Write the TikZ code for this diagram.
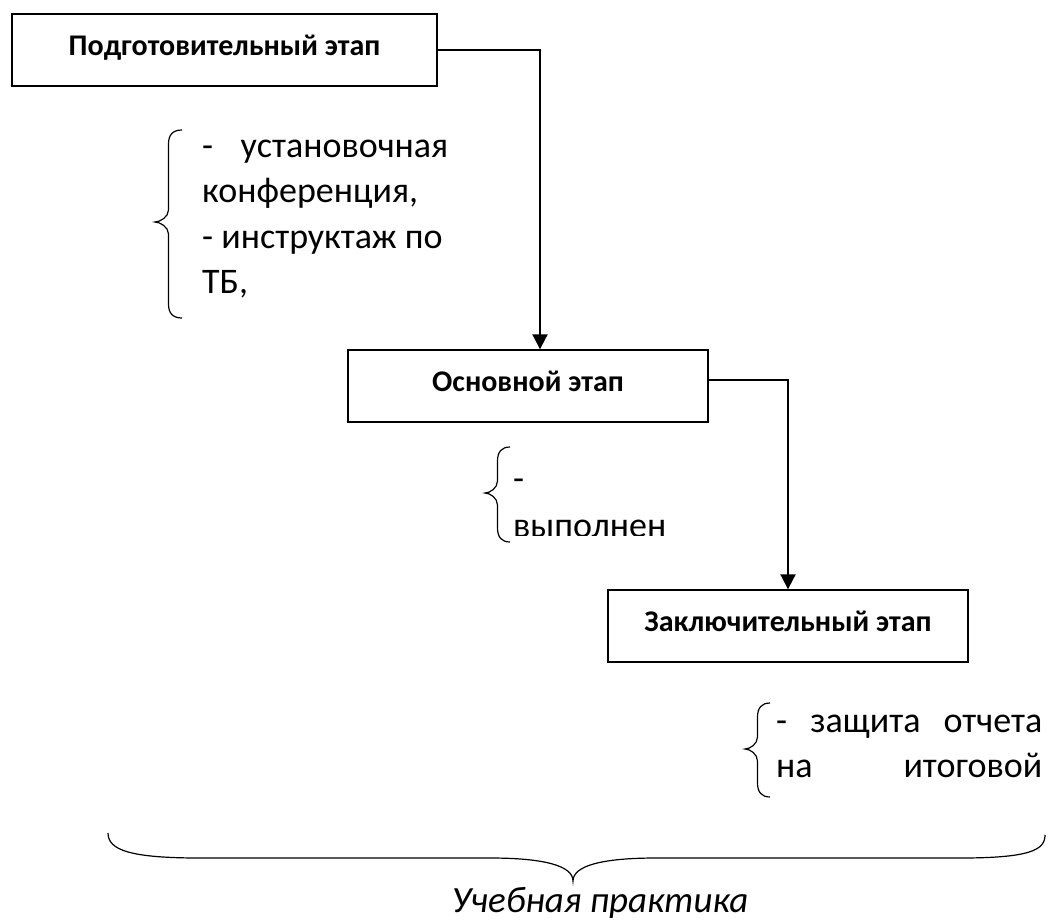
\documentclass[tikz,border=0pt]{standalone}
\usepackage{fontspec}
\setmainfont{Carlito}
\usetikzlibrary{arrows.meta}

% curly brace opening to the right: end x, tip x, top y, tip y, bottom y
\newcommand{\curlybr}[5]{%
  \draw[brace line] (#1,#3) .. controls ({(#1+#2)/2+4},#3) and ({(#1+#2)/2},#3+5) .. ({(#1+#2)/2},#3+14)
    -- ({(#1+#2)/2},#4-12) .. controls ({(#1+#2)/2},#4-5) and (#2+5,#4) .. (#2,#4)
    .. controls (#2+5,#4) and ({(#1+#2)/2},#4+5) .. ({(#1+#2)/2},#4+12)
    -- ({(#1+#2)/2},#5-14) .. controls ({(#1+#2)/2},#5-5) and ({(#1+#2)/2+4},#5) .. (#1,#5);}

\tikzset{
  stage/.style={draw, line width=1.4pt, inner sep=0pt, minimum height=72pt,
    font=\bfseries\fontsize{30}{36}\selectfont, text height=19pt, text depth=9pt},
  conn/.style={line width=2pt, -{Triangle[width=15pt,length=15pt]}},
  brace line/.style={line width=1.2pt},
  note/.style={anchor=base west, inner sep=0pt, align=justify,
    font=\fontsize{36}{45.5}\selectfont}
}

\begin{document}
\begin{tikzpicture}[x=1pt, y=-1pt]
    \useasboundingbox (0,0) rectangle (1048,921);

    % the three stages
    \node[stage, minimum width=425pt] (podg) at (224.5,50) {Подготовительный этап};
    \node[stage, minimum width=360pt] (osn) at (528,386) {Основной этап};
    \node[stage, minimum width=360pt] (zakl) at (788,626) {Заключительный этап};

    \draw[conn] (podg.east) -| ([xshift=12pt]osn.north);
    \draw[conn] ([yshift=6pt]osn.east) -| (zakl.north);

    % first stage contents
    \curlybr{182}{155}{130}{222}{318}
    \node[note, text width=246pt] (podgtxt) at (202,157)
      {- установочная\linebreak конференция,\\- инструктаж по\\ТБ,};

    % second stage contents (cut off)
    \curlybr{510}{485}{447}{493}{542}
    \begin{scope}
      \clip (505,440) rectangle (700,535);
      \node[note, text width=190pt, align=left, font=\fontsize{36}{47}\selectfont] (osntxt)
        at (513,490) {-\\выполнен};
    \end{scope}

    % third stage contents
    \curlybr{770}{745}{703}{749}{797}
    \node[note, text width=266pt] (zakltxt) at (776,732)
      {- защита отчета\linebreak на\hfill итоговой};

    % brace under everything
    \draw[brace line] (108,833) .. controls (108,850) and (130,858) .. (200,858) -- (490,858)
      .. controls (545,858) and (573,866) .. (573,881)
      .. controls (573,866) and (601,858) .. (656,858) -- (960,858)
      .. controls (1030,858) and (1045,850) .. (1045,835);
    \node[anchor=base, inner sep=0pt, font=\itshape\fontsize{37}{44}\selectfont] (praktika)
      at (600,912) {Учебная практика};
\end{tikzpicture}
\end{document}
